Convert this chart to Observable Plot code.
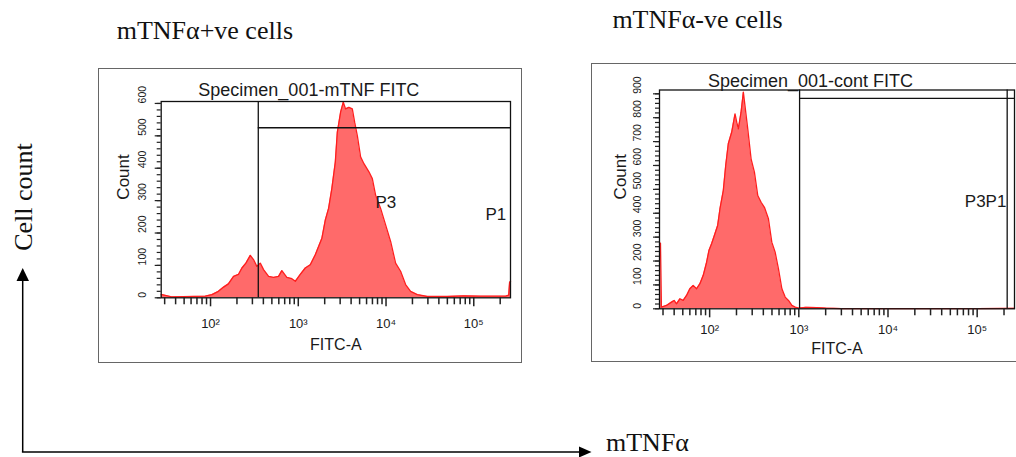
<!DOCTYPE html>
<html>
<head>
<meta charset="utf-8">
<script src="https://cdn.jsdelivr.net/npm/d3@7"></script>
<script src="https://cdn.jsdelivr.net/npm/@observablehq/plot@0.6"></script>
<style>
  html, body { margin: 0; padding: 0; background: #fff; }
  #page { position: relative; width: 1016px; height: 457px; overflow: hidden; background: #fff; }
  .serif { position: absolute; font-family: "Liberation Serif", "Times New Roman", serif; font-size: 26px; line-height: 26px; white-space: nowrap; color: #111; }
  .box { position: absolute; box-sizing: border-box; border: 1px solid #666; background: #fff; }
  .box svg { position: absolute; left: 0; top: 0; }
</style>
</head>
<body>
<div id="page">
  <div class="serif" style="left:116.7px; top:18.2px;">mTNFα+ve cells</div>
  <div class="serif" style="left:612.4px; top:6.5px;">mTNFα-ve cells</div>
  <div class="serif" style="left:606px; top:429.5px;">mTNFα</div>
  <div class="serif" style="left:24px; top:196.5px; transform: translate(-50%,-50%) rotate(-90deg);">Cell count</div>
  <svg width="1016" height="457" style="position:absolute;left:0;top:0;">
    <line x1="22.7" y1="452" x2="22.7" y2="278" stroke="#000" stroke-width="1.5"/>
    <polygon points="22.7,268 16.5,281 29,281" fill="#000"/>
    <line x1="21.9" y1="452" x2="581" y2="452" stroke="#000" stroke-width="1.5"/>
    <polygon points="591.5,452 579,446.5 579,457.5" fill="#000"/>
  </svg>
  <div class="box" id="left" style="left:98px; top:68px; width:424px; height:295px;"></div>
  <div class="box" id="right" style="left:591px; top:63px; width:440px; height:299px;"></div>
</div>
<script>
// ---------- data ----------
const xDomain = [27.4, 262143];
const xMajorTicks = [1e2, 1e3, 1e4, 1e5];
const xTickLabels = ["10²", "10³", "10⁴", "10⁵"];

// mTNF+ve (Specimen_001-mTNF FITC)
const posTitle = "Specimen_001-mTNF FITC";
const posFITC = [27.4, 28, 36, 87, 104, 123, 141, 160, 183, 208, 228, 253, 284, 309, 337, 369, 402, 459, 523, 596, 650, 741, 845, 925, 1054, 1202, 1371, 1563, 1859, 2032, 2215, 2415, 2642, 2785, 3037, 3258, 3460, 3776, 4128, 4389, 4707, 5131, 5600, 6385, 6980, 7606, 8674, 9891, 11280, 12860, 14660, 16720, 19070, 22740, 29580, 50000, 77300, 119900, 231000, 250000, 256000, 262143];
const posCount = [10, 10, 3, 5, 10, 20, 33, 43, 66, 72, 92, 107, 131, 118, 97, 107, 87, 66, 63, 66, 84, 63, 59, 51, 72, 92, 102, 133, 184, 240, 276, 338, 419, 511, 573, 604, 583, 588, 583, 542, 501, 435, 414, 389, 368, 317, 276, 225, 174, 107, 82, 41, 20, 10, 4, 4, 6, 5, 5, 8, 48, 50];
const posYTicks = [0, 100, 200, 300, 400, 500, 600];
const posGateX = [350];
const posGateBars = [{x1: 350, x2: 262143, y: 525}];
const posGateLabels = [{x: 7585, y: 276, text: "P3"}, {x: 136000, y: 240, text: "P1"}];

// mTNF-ve (Specimen_001-cont FITC)
const negTitle = "Specimen_001-cont FITC";
const negFITC = [27.4, 28.1, 28.8, 32.8, 37.4, 40, 42.5, 46.4, 50.5, 55.1, 60, 65.4, 71.4, 77.8, 84.8, 92.5, 98.2, 105.2, 114.7, 123, 130.6, 142.3, 151.4, 161.9, 176.6, 192.6, 201.3, 209.9, 225.1, 238.8, 254.1, 267.5, 291.5, 317.7, 346.6, 377.7, 411.5, 456.3, 497.7, 542.6, 591.3, 645.4, 703.2, 766, 835.7, 911.2, 993, 1200, 1600, 2000, 3000, 10000, 100000, 262143];
const negCount = [275, 275, 7, 14, 28, 35, 21, 42, 35, 56, 84, 98, 84, 105, 140, 195, 244, 272, 314, 349, 419, 495, 600, 691, 739, 816, 781, 753, 823, 907, 823, 753, 628, 572, 474, 446, 425, 377, 279, 237, 167, 84, 49, 35, 14, 7, 3, 6, 5, 3, 1, 1, 1, 2];
const negYTicks = [0, 100, 200, 300, 400, 500, 600, 700, 800, 900];
const negGateX = [1020, 217000];
const negGateBars = [{x1: 1020, x2: 262143, y: 881}];
const negGateLabels = [{x: 72640, y: 425, text: "P3P1"}];

// ---------- drawing ----------
const xMinorTicks = d3.scaleLog().domain(xDomain).ticks().filter(t => !xMajorTicks.includes(t));

function panel(o) {
  const data = o.xs.map((x, i) => ({x, count: o.counts[i]}));
  const yMinor = d3.range(0, o.ymax, o.yMinorStep);
  return Plot.plot({
    width: o.width, height: o.height,
    marginLeft: o.ml, marginRight: o.mr, marginTop: o.mt, marginBottom: o.mb,
    style: {fontFamily: '"Liberation Sans", Arial, sans-serif', fontSize: "12px", background: "transparent", overflow: "visible", color: "#1a1a1a", maxWidth: "none"},
    x: {type: "log", domain: xDomain, axis: null, label: null},
    y: {domain: [0, o.ymax], axis: null, label: null},
    marks: [
      Plot.areaY(data, {x: "x", y: "count", fill: "#ff6a6a"}),
      Plot.lineY(data, {x: "x", y: "count", stroke: "#ff1e1e", strokeWidth: 1.3}),
      Plot.ruleX(o.gateX, {stroke: "#111", strokeWidth: 1.3}),
      Plot.ruleY(o.gateBars, {y: "y", x1: "x1", x2: "x2", stroke: "#111", strokeWidth: 1.3}),
      Plot.frame({stroke: "#111", strokeWidth: 1.3}),
      Plot.axisX(xMinorTicks, {tickSize: 7, tickFormat: () => "", label: null, strokeWidth: 1.5, stroke: "#222"}),
      Plot.axisX(xMajorTicks, {tickSize: 9, tickFormat: () => "", label: null, strokeWidth: 1.5, stroke: "#222"}),
      Plot.text(xMajorTicks, {x: d => d, text: (d, i) => xTickLabels[i], frameAnchor: "bottom", dy: o.xLabDy, lineAnchor: "bottom", fontSize: 13}),
      Plot.axisY(yMinor, {tickSize: 4, tickFormat: () => "", label: null, strokeWidth: 1.2, stroke: "#222"}),
      Plot.axisY(o.yTicks, {tickSize: 6, tickFormat: () => "", label: null, strokeWidth: 1.2, stroke: "#222"}),
      Plot.text(o.yTicks, {y: d => d, text: d => String(d), frameAnchor: "left", rotate: -90, dx: o.yLabDx, fontSize: 10.5}),
      Plot.text(["Count"], {text: d => d, frameAnchor: "left", rotate: -90, dx: o.countDx, fontSize: 17}),
      Plot.text(["FITC-A"], {text: d => d, frameAnchor: "bottom", dy: o.fitcDy, lineAnchor: "bottom", fontSize: 16}),
      Plot.text([o.title], {text: d => d, frameAnchor: "top", dx: o.titleDx, dy: o.titleDy, lineAnchor: "bottom", fontSize: 18}),
      Plot.text(o.gateLabels, {x: "x", y: "y", text: "text", textAnchor: "start", lineAnchor: "bottom", fontSize: 17})
    ]
  });
}

document.getElementById("left").appendChild(panel({
  xs: posFITC, counts: posCount, ymax: 606, yTicks: posYTicks, yMinorStep: 20,
  width: 422, height: 293, ml: 61.7, mr: 11, mt: 32, mb: 64.7,
  gateX: posGateX, gateBars: posGateBars, gateLabels: posGateLabels, title: posTitle,
  xLabDy: 30, fitcDy: 52.4, yLabDx: -19, countDx: -37.4, titleDx: -27, titleDy: -5.5
}));

document.getElementById("right").appendChild(panel({
  xs: negFITC, counts: negCount, ymax: 916, yTicks: negYTicks, yMinorStep: 20,
  width: 438, height: 297, ml: 67, mr: 16, mt: 25.5, mb: 52.7,
  gateX: negGateX, gateBars: negGateBars, gateLabels: negGateLabels, title: negTitle,
  xLabDy: 25, fitcDy: 45, yLabDx: -22, countDx: -39, titleDx: -26.5, titleDy: -3.5
}));
</script>
</body>
</html>
